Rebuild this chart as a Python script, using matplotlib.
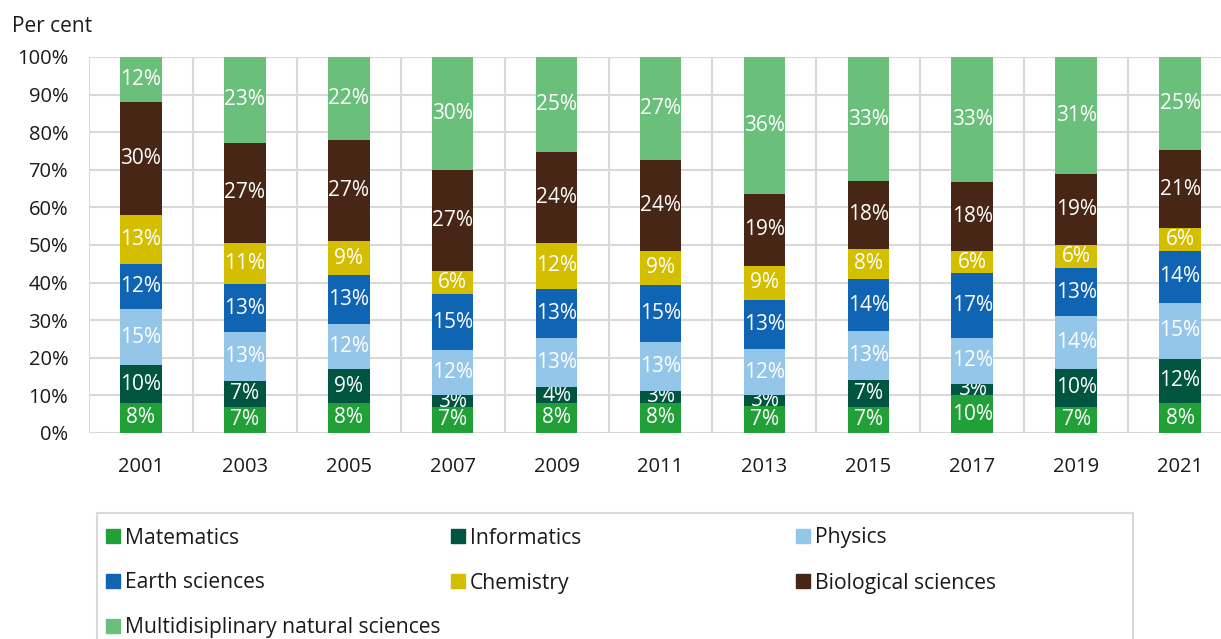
import matplotlib
matplotlib.use("Agg")
import matplotlib.pyplot as plt
from matplotlib.patches import Rectangle
import numpy as np

plt.rcParams['font.family'] = ['Open Sans', 'DejaVu Sans']

years = ['2001', '2003', '2005', '2007', '2009', '2011', '2013', '2015', '2017', '2019', '2021']
series = ['Matematics', 'Informatics', 'Physics', 'Earth sciences', 'Chemistry',
          'Biological sciences', 'Multidisiplinary natural sciences']
colors = ['#21a038', '#005541', '#94c6ea', '#0f64b4', '#d4be00', '#472615', '#6abf7b']

matematics    = [8, 7, 8, 7, 8, 8, 7, 7, 10, 7, 8]
informatics   = [10, 7, 9, 3, 4, 3, 3, 7, 3, 10, 12]
physics       = [15, 13, 12, 12, 13, 13, 12, 13, 12, 14, 15]
earth         = [12, 13, 13, 15, 13, 15, 13, 14, 17, 13, 14]
chemistry     = [13, 11, 9, 6, 12, 9, 9, 8, 6, 6, 6]
biological    = [30, 27, 27, 27, 24, 24, 19, 18, 18, 19, 21]
multi         = [12, 23, 22, 30, 25, 27, 36, 33, 33, 31, 25]

data = np.array([matematics, informatics, physics, earth, chemistry, biological, multi], dtype=float)
shares = data / data.sum(axis=0) * 100  # 100% stacked

W, H = 1221, 639
fig = plt.figure(figsize=(W / 100, H / 100), dpi=100)
ax = fig.add_axes([89 / W, 1 - 433 / H, (1232 - 89) / W, (433 - 57) / H])

x = np.arange(len(years))
bottom = np.zeros(len(years))
for i in range(len(series)):
    bars = ax.bar(x, shares[i], 0.4, bottom=bottom, color=colors[i], zorder=3)
    labels = [f'{v:.0f}%' for v in data[i]]
    ax.bar_label(bars, labels=labels, label_type='center', color='white', fontsize=15)
    bottom += shares[i]

ax.set_xlim(-0.5, len(years) - 0.5)
ax.set_ylim(0, 100)
ax.set_yticks(np.arange(0, 101, 10))
ax.set_yticklabels([f'{v}%' for v in range(0, 101, 10)])
ax.set_xticks(x)
ax.set_xticklabels(years)
ax.set_xticks(np.arange(-0.5, len(years), 1), minor=True)
ax.tick_params(axis='both', which='both', length=0, labelsize=14.5, colors='#1a1a1a')
ax.tick_params(axis='y', pad=15)
ax.tick_params(axis='x', pad=17)
ax.grid(axis='y', which='major', color='#d9d9d9', lw=1.5, zorder=0)
ax.grid(axis='x', which='minor', color='#d9d9d9', lw=1.5, zorder=0)
for s in ax.spines.values():
    s.set_visible(False)

fig.text(12 / W, 1 - 26 / H, 'Per cent', fontsize=15, va='center', ha='left', color='#1a1a1a')

# legend box
fig.patches.append(Rectangle((97 / W, 1 - 660 / H), (1133 - 97) / W, (660 - 513) / H,
                             transform=fig.transFigure, fill=False, edgecolor='#d9d9d9', lw=1.5))
for i, name in enumerate(series):
    row, col = divmod(i, 3)
    lx = 106 + col * 345
    ly = 536 + row * 45
    fig.patches.append(Rectangle((lx / W, 1 - (ly + 7) / H), 14 / W, 14 / H,
                                 transform=fig.transFigure, color=colors[i]))
    fig.text((lx + 19) / W, 1 - (ly + 2) / H, name, fontsize=15.2, va='center', ha='left', color='#1a1a1a')

fig.savefig('out.png', dpi=100)
